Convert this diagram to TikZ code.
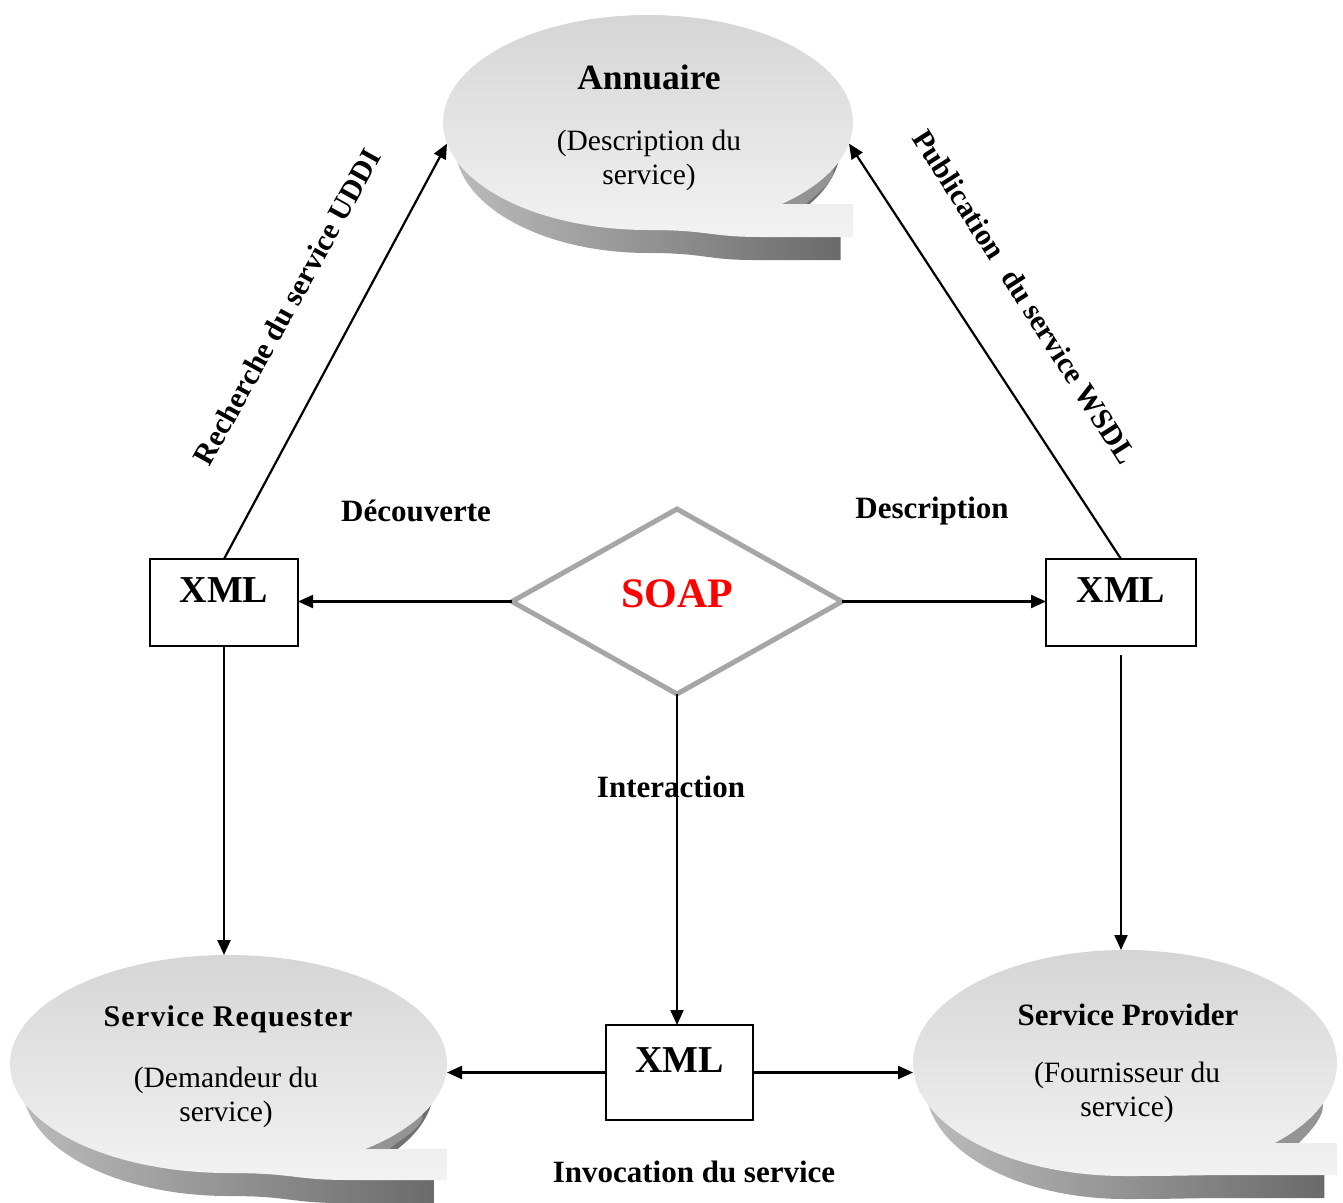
\documentclass[tikz,border=0pt]{standalone}
\usepackage{fontspec}
\setmainfont{Liberation Serif}
\usetikzlibrary{shapes.geometric,arrows.meta}

% #1 cx, #2 cy, #3 rx, #4 ry, #5 tail top (local y), #6 tail bottom (local y)
\newcommand{\bubbleshape}[6]{%
 \begin{scope}[shift={(#1,#2)}]
  \pgfmathsetmacro\bbT{asin((#5)/(#4))}
  \pgfmathsetmacro\bbJ{(#3)*cos(\bbT)}
  \pgfmathsetmacro\bbW{\bbT+24}
  \begin{scope}[yshift=-23pt, xscale=0.94]
   \shade[bubbleside] (\bbT:#3 and #4) arc[start angle=\bbT, end angle=270, x radius=#3, y radius=#4]
     .. controls (0.3*#3,-#4) and (0.3*#3,#6) .. (0.55*#3,#6) -- (#3,#6) -- (#3,#5) -- (\bbJ,#5) -- cycle;
  \end{scope}
  \fill[bubblewedge] (\bbW:#3 and #4) arc[start angle=\bbW, end angle=\bbT, x radius=#3, y radius=#4]
     -- ++(24,0) .. controls +(8,8) and +(2,-14) .. (\bbW:#3 and #4) -- cycle;
  \shade[bubbleface] (\bbT:#3 and #4) arc[start angle=\bbT, end angle=270, x radius=#3, y radius=#4]
     .. controls (0.3*#3,-#4) and (0.3*#3,#6) .. (0.55*#3,#6) -- (#3,#6) -- (#3,#5) -- (\bbJ,#5) -- cycle;
 \end{scope}}

\begin{document}
\begin{tikzpicture}[x=1pt,y=1pt,
  bubbleside/.style={left color=gray!50, right color=black!60},
  bubblewedge/.style={fill=black!42},
  bubbleface/.style={top color=gray!34, bottom color=gray!10},
  anchorell/.style={ellipse, inner sep=0pt, outer sep=0pt},
  conn/.style={draw, line width=2.2pt, -{Triangle[length=15pt,width=13pt]}},
  xmlbox/.style={draw, line width=2.4pt, fill=white, inner sep=0pt, outer sep=0pt,
     text height=12pt, text depth=12pt, font=\fontsize{38}{40}\selectfont\bfseries},
  lbl/.style={font=\fontsize{31}{36}\selectfont\bfseries, inner sep=0pt},
  rotlbl/.style={font=\fontsize{30}{34}\selectfont\bfseries, inner sep=0pt},
  btitle/.style={inner sep=0pt},
  bdesc/.style={font=\fontsize{29.5}{34}\selectfont, align=center, inner sep=0pt}]

\fill[white] (0,0) rectangle (1343,-1202);
\useasboundingbox (0,0) rectangle (1343,-1202);

% bubbles
\bubbleshape{648}{-122.5}{205}{107.5}{-81.5}{-114.5}
\bubbleshape{228.5}{-1064}{218.5}{109}{-85}{-116}
\bubbleshape{1125}{-1063}{212}{113}{-80}{-112}

\node[anchorell, minimum width=410pt, minimum height=215pt] (ann) at (648,-122.5) {};
\node[anchorell, minimum width=437pt, minimum height=218pt] (req) at (228.5,-1064) {};
\node[anchorell, minimum width=424pt, minimum height=226pt] (prov) at (1125,-1063) {};

\node[btitle, font=\fontsize{35.5}{40}\selectfont\bfseries] (annT) at (649,-77) {Annuaire};
\node[bdesc] (annD) at (649,-160) {(Description du\\service)};
\node[btitle, font=\fontsize{30}{34}\selectfont\bfseries\addfontfeature{LetterSpace=4}] (reqT) at (228,-1019) {Service Requester};
\node[bdesc] (reqD) at (226,-1097.5) {(Demandeur du\\service)};
\node[btitle, font=\fontsize{31}{34}\selectfont\bfseries] (provT) at (1128,-1015) {Service Provider};
\node[bdesc] (provD) at (1127,-1092.5) {(Fournisseur du\\service)};

% XML boxes
\node[xmlbox, minimum width=148pt, minimum height=87pt] (xl) at (224,-602.5) {XML};
\node[xmlbox, minimum width=150pt, minimum height=87pt] (xr) at (1121,-602.5) {XML};
\node[xmlbox, minimum width=147pt, minimum height=95pt] (xb) at (679.5,-1072.5) {XML};

% SOAP diamond
\node[diamond, draw=gray!70, line width=5pt, minimum width=330pt, minimum height=185pt,
      inner sep=0pt, outer sep=0pt, text=red, text depth=16pt,
      font=\fontsize{42}{46}\selectfont\bfseries] (soap) at (677,-601.5) {SOAP};

% labels
\node[lbl] (decouv) at (416,-511) {Découverte};
\node[lbl] (descr) at (932,-511) {Description};
\node[lbl] (inter) at (671,-787) {Interaction};
\node[lbl] (invoc) at (694,-1172) {Invocation du service};
\node[rotlbl, rotate=61] (uddi) at (287,-307) {Recherche du service UDDI};
\node[rotlbl, rotate=-57.4] (wsdl) at (1025,-297) {Publication\hspace{0.6em}du service WSDL};

% connectors
\draw[conn] (xl.north) -- (ann.186);
\draw[conn] (xr.north) -- (ann.-6);
\draw[conn] (soap.west) -- (soap.west -| xl.east);
\draw[conn] (soap.east) -- (soap.east -| xr.west);
\draw[conn] (xl.south) -- (xl.south |- req.north);
\draw[conn, shorten <=9pt] (xr.south) -- (xr.south |- prov.north);
\draw[conn] (soap.south) -- (soap.south |- xb.north);
\draw[conn] (xb.west) -- (xb.west -| req.east);
\draw[conn] (xb.east) -- (xb.east -| prov.west);
\end{tikzpicture}
\end{document}
